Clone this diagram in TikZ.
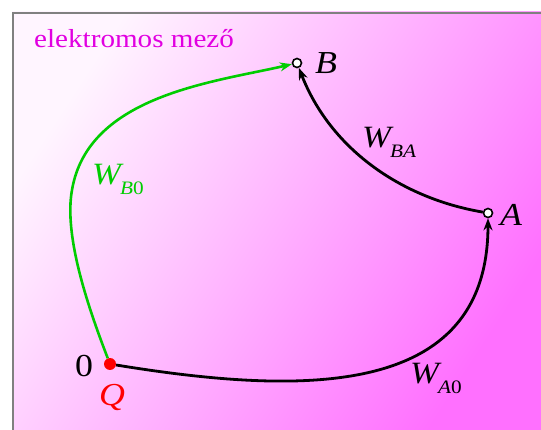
\documentclass[tikz,border=0pt]{standalone}
\usepackage{fontspec}
\setmainfont{Liberation Serif}[FakeStretch=1.12]
\usetikzlibrary{arrows.meta}
\definecolor{bglight}{RGB}{255,245,255}
\definecolor{bgdark}{RGB}{255,112,255}
\definecolor{fieldmag}{RGB}{225,0,225}
\definecolor{pathgreen}{RGB}{0,205,0}
\definecolor{framegray}{RGB}{128,128,128}
\newcommand{\wlabel}[1]{{\fontsize{31}{31}\selectfont\itshape W}\kern-1pt\raisebox{-10pt}{\fontsize{19}{19}\selectfont #1}}
\begin{document}
\begin{tikzpicture}[x=1pt,y=-1pt,
  hollow/.style={circle, draw=black, fill=white, line width=1.6pt, minimum size=9pt, inner sep=0pt},
  charge/.style={circle, fill=red, minimum size=12pt, inner sep=0pt},
  lbl/.style={inner sep=0pt, anchor=base west},
  blackpath/.style={draw=black, line width=2.8pt, -{Stealth[length=12pt,width=9pt]}},
  greenpath/.style={draw=pathgreen, line width=2.6pt, -{Stealth[length=12pt,width=9pt]}}
]
\useasboundingbox (0,0) rectangle (541,430);
\fill[top color=bglight, bottom color=bgdark, shading angle=57] (12,12) rectangle (541,430);
\draw[framegray, line width=2.5pt] (13,430) -- (13,13) -- (541,13);

\node[lbl, text=fieldmag, font=\fontsize{26}{26}\selectfont] (title) at (34,48) {elektromos mező};

\node[hollow] (B) at (297,63) {};
\node[hollow] (A) at (488,213) {};
\node[charge] (Q) at (110,364) {};
\coordinate (M) at (72,190);

\draw[greenpath] (Q) .. controls (86,302) and (64,234) .. (M) .. controls (88,95) and (215,82) .. (B);
\draw[blackpath] (Q) .. controls (300,395) and (488,400) .. (A);
\draw[blackpath] (A) .. controls (400,198) and (330,148) .. (B);

\node[lbl, font=\fontsize{32}{32}\selectfont\itshape] (Blbl) at (315,74) {B};
\node[lbl, font=\fontsize{32}{32}\selectfont\itshape] (Albl) at (500,226) {A};
\node[lbl, font=\fontsize{32}{32}\selectfont] (zero) at (75,377) {0};
\node[lbl, text=red, font=\fontsize{32}{32}\selectfont\itshape] (Qlbl) at (99,405) {Q};

\node[lbl, text=pathgreen] (wb0) at (92,185) {\wlabel{\textit{B}0}};
\node[lbl] (wba) at (362,148) {\wlabel{\textit{BA}}};
\node[lbl] (wa0) at (410,383) {\wlabel{\textit{A}0}};
\end{tikzpicture}
\end{document}
